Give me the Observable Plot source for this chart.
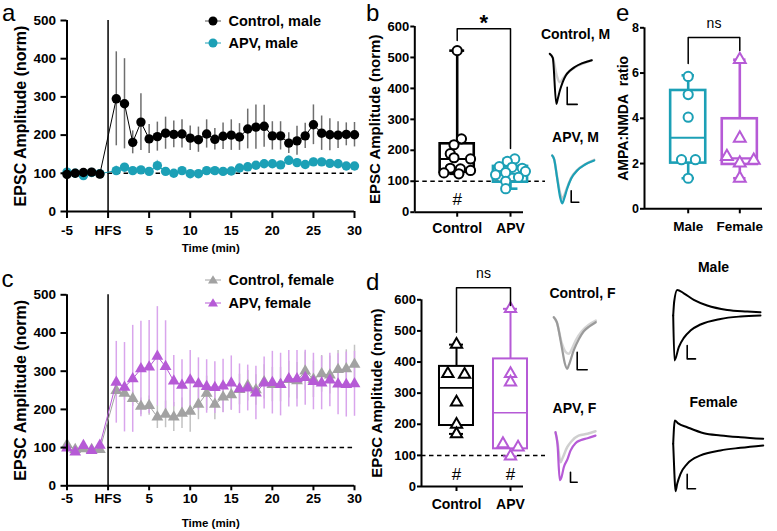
<!DOCTYPE html>
<html><head><meta charset="utf-8">
<script src="https://cdn.jsdelivr.net/npm/d3@7"></script>
<script src="https://cdn.jsdelivr.net/npm/@observablehq/plot@0.6"></script>
<style>
body{margin:0;background:#fff;}
#fig{position:relative;width:777px;height:531px;overflow:hidden;font-family:"Liberation Sans",Arial,Helvetica,sans-serif;color:#000;}
.letter{position:absolute;font-size:24px;line-height:24px;}
.leg{position:absolute;font-weight:bold;font-size:14.5px;line-height:16px;white-space:nowrap;}
</style></head><body><div id="fig"></div>
<script>
// ---------------- DATA ----------------
const minutes = [-5,-4,-3,-2,-1,1,2,3,4,5,6,7,8,9,10,11,12,13,14,15,16,17,18,19,20,21,22,23,24,25,26,27,28,29,30];
const hfsTime = 0;
const baseline = 100;
// panel a (male)
const ctrlMaleMean = [97,100,102,103,98, 295,282,181,234,190,196,205,202,203,192,188,203,189,197,200,195,216,221,223,198,198,179,185,198,227,205,201,200,202,201];
const ctrlMaleSem  = [5,4,4,4,4, 123,118,30,74,38,38,42,35,37,32,33,37,28,35,40,35,52,58,55,37,37,27,38,33,52,45,42,35,30,32];
const apvMaleMean  = [103,100,94,102,99, 107,116,107,109,105,120,105,100,107,99,99,107,107,105,106,114,117,121,125,125,122,134,128,123,130,130,126,125,119,119];
const apvMaleSem   = [4,4,4,4,4, 12,10,8,8,10,14,9,8,8,7,7,8,8,8,8,10,10,10,10,10,10,12,10,10,10,10,10,10,8,8];
// panel c (female)
const ctrlFemMean = [108,95,97,95,95, 249,242,228,208,210,180,187,180,190,195,213,242,213,232,238,252,262,251,272,265,265,278,275,300,279,293,290,304,306,318];
const ctrlFemSem  = [6,5,5,5,5, 15,18,20,22,25,30,35,38,40,55,40,45,40,40,40,40,40,40,45,45,45,48,48,50,48,48,50,50,50,50];
const apvFemMean  = [99,88,105,92,106, 271,258,280,306,311,339,312,274,263,277,267,260,257,261,269,254,256,243,269,270,265,280,280,283,273,269,277,266,265,267];
const apvFemSem   = [8,7,6,6,6, 107,117,140,125,122,130,120,67,67,77,68,70,68,70,71,65,60,70,68,82,82,74,74,72,74,70,70,80,85,85];
const timeTicks = [-5,0,5,10,15,20,25,30];
const ampTicks = [0,100,200,300,400,500];

// panel b (male, EPSC amplitude)
const groupsCA = ["Control","APV"];
const bCtrlVals = [522,237,218,189,176,172,142,140,135,127,124];
const bCtrlJit  = [0,0.08,-0.06,-0.13,-0.06,0.25,-0.13,0.06,0.25,-0.25,0.03];
const bApvVals  = [172,164,147,145,142,132,128,121,113,100,76];
const bApvJit   = [0.08,-0.06,-0.21,0.03,0.22,0.28,-0.09,-0.28,0.15,-0.09,-0.09];
const bMin = [124,76], bQ1 = [129,97], bMed = [172,124], bQ3 = [221,148], bMax = [522,172];
const bBracket = {left:555, top:593, right:206};
const bSig = ["#",""];
// panel d (female, EPSC amplitude)
const dCtrlVals = [456,362,360,271,199,169];
const dCtrlJit  = [0,-0.16,0.15,0,0,0];
const dApvVals  = [571,362,335,137,126,97];
const dApvJit   = [0,0,0,-0.14,0.14,0];
const dMin = [169,97], dQ1 = [196,121], dMed = [317,237], dQ3 = [386,410], dMax = [456,571];
const dBracket = {left:496, top:639, right:582};
const dSig = ["#","#"];
const boxAmpTicks = [0,100,200,300,400,500,600];
// panel e (AMPA:NMDA ratio)
const groupsSex = ["Male","Female"];
const eMaleVals = [5.85,5.05,4.05,2.17,2.17,1.35];
const eMaleJit  = [0,0,0,-0.13,0.14,0];
const eFemVals  = [6.59,3.12,2.31,2.14,2.02,1.35];
const eFemJit   = [0,0,-0.25,0.27,0,0];
const eMin = [1.35,1.35], eQ1 = [2.02,1.96], eMed = [3.14,2.23], eQ3 = [5.23,3.98], eMax = [5.9,6.59];
const eBracket = {left:6.42, top:7.57, right:7.0};
const ratioTicks = [0,2,4,6,8];

// example traces (time in ms, current in pA, sampled)
const trCtrlM_t = [0,3,6.5,8,10,13,16,20,25,32,42];
const trCtrlM_v = [0,-20,-250,-225,-185,-140,-108,-85,-66,-48,-32];
const trCtrlMb_t = [0,3,7,10,13,17,22,30,42];
const trCtrlMb_v = [0,-20,-110,-142,-125,-100,-78,-55,-32];
const trApvM_t = [0,2,5,8,10,12,15,19,25,33,42];
const trApvM_v = [0,-20,-115,-210,-240,-215,-165,-115,-75,-45,-25];
const trApvMb_v = [0,-20,-110,-190,-215,-200,-160,-112,-73,-44,-22];
const trCtrlF_t = [0,3,8,11,13.4,15,20,25,30,36,42];
const trCtrlF_v = [0,-25,-150,-230,-258,-240,-165,-110,-70,-45,-25];
const trCtrlFb_t = [0,3,8,12,15,18,22,28,35,42];
const trCtrlFb_v = [0,-25,-130,-175,-183,-160,-115,-70,-38,-17];
const trApvF_t = [0,2,4.3,6,8.3,12,15,20,25,32,40];
const trApvF_v = [0,-60,-240,-225,-175,-135,-92,-55,-40,-30,-17];
const trApvFb_t = [0,2,5,7,11.7,16,23,32,40];
const trApvFb_v = [0,-50,-150,-130,-75,-45,-17,-8,5];
const trMaleUp_t = [0,1,4,10.6,20.6,34,54,74,87.3];
const trMaleUp_v = [0,70,128,111,78,50,28,20,16];
const trMaleDn_t = [0,1.3,5.6,10.6,17.3,27.3,47.3,67.3,87.3];
const trMaleDn_v = [0,-225,-158,-112,-75,-45,-17,-5,0];
const trFemUp_t = [0,0.8,1.6,5,14,30.6,47.3,67.3,90];
const trFemUp_v = [0,80,117,102,83,53,42,33,25];
const trFemDn_t = [0,1.2,2.3,4,7.3,14,27.3,47.3,67.3,90];
const trFemDn_v = [0,-150,-237,-200,-150,-100,-58,-33,-20,-8];
// scale bars: start time, start current, length in time, length in current
const barCtrlM = {t0:17.4, i0:-253, dt:10, di:86};
const barApvM  = {t0:19, i0:-234, dt:7.6, di:58};
const barCtrlF = {t0:23.4, i0:-263, dt:10, di:88};
const barApvF  = {t0:15, i0:-250, dt:6.7, di:50};
const barMale  = {t0:14, i0:-217, dt:8.3, di:67};
const barFem   = {t0:14, i0:-225, dt:8.3, di:72};

// ---------------- STYLE ----------------
const teal = "#1ca0b6", tealErr = "#7ccad6";
const purple = "#b65ad6", purpleErr = "#d9a5ec";
const grayF = "#a2a2a2", grayFErr = "#c2c2c2";
const ctrlMErr = "#6e6e6e";
const FONT = '"Liberation Sans", Arial, Helvetica, sans-serif';
const fig = document.getElementById("fig");
function place(el, left, top){ el.style.position="absolute"; el.style.left=left+"px"; el.style.top=top+"px"; fig.appendChild(el); }
function sty(fs){ return {fontFamily:FONT, fontSize:fs+"px", fontWeight:"bold", background:"none", overflow:"visible", color:"black"}; }

// ---------------- TIME COURSE PANELS ----------------
function seriesMarks(rows, color, errColor, symbol, r){
  return {
    err: Plot.ruleX(rows, {x:"t", y1:d=>d.m-d.e, y2:d=>d.m+d.e, stroke:errColor, strokeWidth:1.5}),
    line: Plot.line(rows, {x:"t", y:"m", stroke:color, strokeWidth:1}),
    dot: Plot.dot(rows, {x:"t", y:"m", r, fill:color, symbol, stroke:"none"})
  };
}
function timePanel({height, mT, mB, back, front, tickSize, tickPad, labelDy}){
  return Plot.plot({
    width:370, height, marginLeft:66.5, marginRight:16, marginTop:mT, marginBottom:mB,
    x:{domain:[minutes[0], minutes[minutes.length-1]]},
    y:{domain:[0,500]},
    style: sty(13.5),
    marks:[
      Plot.ruleY([baseline], {x1:hfsTime, x2:minutes[minutes.length-1], stroke:"black", strokeWidth:1.5, strokeDasharray:"4.5,3.5"}),
      Plot.ruleX([hfsTime], {y1:0, y2:500, stroke:"black", strokeWidth:1.5}),
      back.err, front.err, back.line, back.dot, front.line, front.dot,
      Plot.axisY({ticks:ampTicks, tickSize:6, tickPadding:5, strokeWidth:2, label:null}),
      Plot.axisX({ticks:timeTicks, tickFormat:d=>d===hfsTime?"HFS":d, tickSize, tickPadding:tickPad, strokeWidth:2, label:null}),
      Plot.ruleY([0], {stroke:"black", strokeWidth:2}),
      Plot.ruleX([minutes[0]], {stroke:"black", strokeWidth:2}),
      Plot.text(["Time (min)"], {frameAnchor:"bottom", textAnchor:"middle", lineAnchor:"middle", dy:labelDy, fontSize:11.5}),
      Plot.text(["EPSC Amplitude (norm)"], {frameAnchor:"left", textAnchor:"middle", lineAnchor:"middle", rotate:-90, dx:-46.5, fontSize:16})
    ]
  });
}
const rows = (m,e)=>minutes.map((t,i)=>({t, m:m[i], e:e[i]}));
place(timePanel({height:260, mT:20, mB:49, tickSize:7, tickPad:7, labelDy:37,
  back: seriesMarks(rows(apvMaleMean, apvMaleSem), teal, tealErr, "circle", 4.7),
  front: seriesMarks(rows(ctrlMaleMean, ctrlMaleSem), "black", ctrlMErr, "circle", 4.7)}), 0, 0);
place(timePanel({height:271, mT:34.3, mB:45.7, tickSize:5, tickPad:3, labelDy:38,
  back: seriesMarks(rows(ctrlFemMean, ctrlFemSem), grayF, grayFErr, "triangle", 4.4),
  front: seriesMarks(rows(apvFemMean, apvFemSem), purple, purpleErr, "triangle", 4.4)}), 0, 260);

// legends
function legend(left, items){
  for (const it of items){
    const s = document.createElementNS("http://www.w3.org/2000/svg","svg");
    s.setAttribute("width",20); s.setAttribute("height",14);
    const mk = it.sym==="circle" ? `<circle cx="9" cy="7" r="4.5" fill="${it.color}"/>`
      : `<path d="M9,2.2 L14,10.4 L4,10.4 Z" fill="${it.color}"/>`;
    s.innerHTML = `<line x1="1" x2="17" y1="7" y2="7" stroke="${it.lineColor}" stroke-width="1"/>${mk}`;
    place(s, left-5, it.y-7);
    const d = document.createElement("div"); d.className="leg"; d.textContent = it.text;
    place(d, left+19.5, it.y-8);
  }
}
legend(209, [
  {text:"Control, male", y:20.7, color:"black", lineColor:"#555", sym:"circle"},
  {text:"APV, male", y:43.3, color:teal, lineColor:teal, sym:"circle"}]);
legend(209, [
  {text:"Control, female", y:280, color:grayF, lineColor:grayF, sym:"tri"},
  {text:"APV, female", y:303.3, color:purple, lineColor:purple, sym:"tri"}]);

// ---------------- BOX PANELS ----------------
function boxPanel({width, height, mL, mR, mT, mB, c0, ppu, yDomain, yTicks, groups, stats, points, colors,
                   symbols, rs, halfW, capHalf, boxW, medW, bracket, bracketText, bracketFs, bracketDy, bracketWeight,
                   sig, sigDy, dashEnd, yLabel, yLabelDx, yLabelFs, xTickPad, tickFs, xTickFs}){
  const x0 = (mL - c0)/ppu, x1 = (width - mR - c0)/ppu;
  const marks = [];
  if (dashEnd != null) marks.push(Plot.ruleY([baseline], {x1:x0, x2:(dashEnd - c0)/ppu, stroke:"black", strokeWidth:1.5, strokeDasharray:"4.5,3.5"}));
  groups.forEach((g,i)=>{
    const s = [{g:i, min:stats.min[i], q1:stats.q1[i], med:stats.med[i], q3:stats.q3[i], max:stats.max[i]}];
    const c = colors[i];
    marks.push(
      Plot.ruleX(s, {x:"g", y1:"min", y2:"q1", stroke:c, strokeWidth:boxW}),
      Plot.ruleX(s, {x:"g", y1:"q3", y2:"max", stroke:c, strokeWidth:boxW}),
      Plot.ruleY(s, {y:"min", x1:d=>d.g-capHalf, x2:d=>d.g+capHalf, stroke:c, strokeWidth:boxW}),
      Plot.ruleY(s, {y:"max", x1:d=>d.g-capHalf, x2:d=>d.g+capHalf, stroke:c, strokeWidth:boxW}),
      Plot.rect(s, {x1:d=>d.g-halfW, x2:d=>d.g+halfW, y1:"q1", y2:"q3", stroke:c, fill:"none", strokeWidth:boxW}),
      Plot.ruleY(s, {y:"med", x1:d=>d.g-halfW, x2:d=>d.g+halfW, stroke:c, strokeWidth:medW})
    );
    const pts = points[i].vals.map((v,k)=>({v, x:i+points[i].jit[k]}));
    marks.push(Plot.dot(pts, {x:"x", y:"v", r:rs[i], symbol:symbols[i], stroke:c, fill:"white", strokeWidth:2}));
  });
  const br = [{x:0,y:bracket.left},{x:0,y:bracket.top},{x:1,y:bracket.top},{x:1,y:bracket.right}];
  marks.push(Plot.line(br, {x:"x", y:"y", stroke:"black", strokeWidth:1.5}));
  marks.push(Plot.text([{x:0.5, y:bracket.top}], {x:"x", y:"y", text:()=>bracketText, dy:bracketDy, fontSize:bracketFs, fontWeight:bracketWeight, textAnchor:"middle", lineAnchor:"middle"}));
  if (sig) marks.push(Plot.text(sig.map((s,i)=>({s, x:i})), {x:"x", y:()=>baseline, text:"s", dy:sigDy, fontSize:17, fontWeight:"normal", textAnchor:"middle", lineAnchor:"middle"}));
  marks.push(
    Plot.axisY({ticks:yTicks, tickSize:4, tickPadding:1.5, strokeWidth:2, label:null, fontSize:tickFs}),
    Plot.axisX({ticks:groups.map((_,i)=>i), tickFormat:i=>groups[i], tickSize:5, tickPadding:xTickPad, strokeWidth:2, label:null, fontSize:xTickFs}),
    Plot.ruleY([0], {stroke:"black", strokeWidth:2}),
    Plot.ruleX([x0], {stroke:"black", strokeWidth:2}),
    Plot.text([yLabel], {frameAnchor:"left", textAnchor:"middle", lineAnchor:"middle", rotate:-90, dx:yLabelDx, fontSize:yLabelFs})
  );
  return Plot.plot({width, height, marginLeft:mL, marginRight:mR, marginTop:mT, marginBottom:mB,
    x:{domain:[x0,x1]}, y:{domain:yDomain}, style:sty(13), marks});
}
place(boxPanel({width:220, height:260, mL:84.3, mR:27, mT:26, mB:48.3, c0:126.7, ppu:53.3,
  yDomain:[0,600], yTicks:boxAmpTicks, groups:groupsCA,
  stats:{min:bMin,q1:bQ1,med:bMed,q3:bQ3,max:bMax},
  points:[{vals:bCtrlVals,jit:bCtrlJit},{vals:bApvVals,jit:bApvJit}], colors:["black",teal],
  symbols:["circle","circle"], rs:[4.6,4.6], halfW:0.32, capHalf:0.14, boxW:2.6, medW:2.1, bracket:bBracket, bracketText:"*", bracketFs:22,
  bracketDy:-6, bracketWeight:"bold", sig:bSig, sigDy:18, dashEnd:215, yLabel:"EPSC Amplitude (norm)", yLabelDx:-39.3,
  yLabelFs:15, xTickPad:6, tickFs:13, xTickFs:14}), 330, 0);
place(boxPanel({width:220, height:281, mL:91, mR:27, mT:49.3, mB:45, c0:126, ppu:54,
  yDomain:[0,600], yTicks:boxAmpTicks, groups:groupsCA,
  stats:{min:dMin,q1:dQ1,med:dMed,q3:dQ3,max:dMax},
  points:[{vals:dCtrlVals,jit:dCtrlJit},{vals:dApvVals,jit:dApvJit}], colors:["black",purple],
  symbols:["triangle","triangle"], rs:[4.2,4.2], halfW:0.315, capHalf:0.13, boxW:2, medW:1.6, bracket:dBracket, bracketText:"ns", bracketFs:14,
  bracketDy:-14, bracketWeight:"normal", sig:dSig, sigDy:19, dashEnd:215, yLabel:"EPSC Amplitude (norm)", yLabelDx:-44.3,
  yLabelFs:15, xTickPad:8, tickFs:13, xTickFs:14}), 330, 250);
place(boxPanel({width:177, height:250, mL:44, mR:15, mT:27.3, mB:41.7, c0:87.7, ppu:51.6,
  yDomain:[0,8], yTicks:ratioTicks, groups:groupsSex,
  stats:{min:eMin,q1:eQ1,med:eMed,q3:eQ3,max:eMax},
  points:[{vals:eMaleVals,jit:eMaleJit},{vals:eFemVals,jit:eFemJit}], colors:[teal,purple],
  symbols:["circle","triangle"], rs:[4.6,4.4], halfW:0.34, capHalf:0.12, boxW:2.6, medW:2.2, bracket:eBracket, bracketText:"ns", bracketFs:14,
  bracketDy:-14, bracketWeight:"normal", sig:null, sigDy:0, dashEnd:null, yLabel:"AMPA:NMDA\u00a0\u00a0ratio", yLabelDx:-21,
  yLabelFs:14, xTickPad:8, tickFs:12.5, xTickFs:13.5}), 600, 0);

// ---------------- TRACES ----------------
function tracePlot({width, height, ox, oy, label, lx, ly, traces, bar}){
  const marks = traces.map(tr=>Plot.line(tr.t.map((t,i)=>({t, v:tr.v[i]})), {x:"t", y:"v", stroke:tr.color, strokeWidth:tr.w||2, curve:"monotone-x"}));
  marks.push(Plot.line([{t:bar.t0, v:bar.i0+bar.di},{t:bar.t0, v:bar.i0},{t:bar.t0+bar.dt, v:bar.i0}], {x:"t", y:"v", stroke:"black", strokeWidth:1.6}));
  marks.push(Plot.text([label], {frameAnchor:"top-left", dx:lx, dy:ly, textAnchor:"middle", lineAnchor:"middle", fontSize:14}));
  return Plot.plot({width, height, margin:0, x:{axis:null, domain:[0,1], range:[ox, ox+1]}, y:{axis:null, domain:[0,-5], range:[oy, oy+1]}, style:sty(14), marks});
}
place(tracePlot({width:90, height:95, ox:19.3, oy:33.3, label:"Control, M", lx:45, ly:14, bar:barCtrlM,
  traces:[{t:trCtrlMb_t, v:trCtrlMb_v, color:"#cfcfcf", w:2.5},{t:trCtrlM_t, v:trCtrlM_v, color:"black", w:2}]}), 530, 20);
place(tracePlot({width:90, height:85, ox:21.7, oy:30, label:"APV, M", lx:45, ly:12, bar:barApvM,
  traces:[{t:trApvM_t, v:trApvMb_v, color:"#c8c8c8", w:2.5},{t:trApvM_t, v:trApvM_v, color:teal, w:2.2}]}), 530, 125);
place(tracePlot({width:100, height:95, ox:23.3, oy:36.7, label:"Control, F", lx:52, ly:13, bar:barCtrlF,
  traces:[{t:trCtrlFb_t, v:trCtrlFb_v, color:"#d4d4d4", w:2.5},{t:trCtrlF_t, v:trCtrlF_v, color:"#9a9a9a", w:2.2}]}), 530, 280);
place(tracePlot({width:90, height:95, ox:25, oy:36.7, label:"APV, F", lx:44, ly:13, bar:barApvF,
  traces:[{t:trApvFb_t, v:trApvFb_v, color:"#cfcfcf", w:2.5},{t:trApvF_t, v:trApvF_v, color:purple, w:2.2}]}), 530, 395);
place(tracePlot({width:117, height:110, ox:12.7, oy:60, label:"Male", lx:53, ly:12, bar:barMale,
  traces:[{t:trMaleUp_t, v:trMaleUp_v, color:"black", w:2},{t:trMaleDn_t, v:trMaleDn_v, color:"black", w:2}]}), 660, 255);
place(tracePlot({width:117, height:110, ox:12.7, oy:53.3, label:"Female", lx:53, ly:12, bar:barFem,
  traces:[{t:trFemUp_t, v:trFemUp_v, color:"black", w:2},{t:trFemDn_t, v:trFemDn_v, color:"black", w:2}]}), 660, 390);

// panel letters
[["a",2,1],["b",366,0.5],["c",1.5,267],["d",366,270],["e",616,0.5]].forEach(([t,l,tp])=>{
  const d=document.createElement("div"); d.className="letter"; d.textContent=t; place(d,l,tp);
});
</script></body></html>
